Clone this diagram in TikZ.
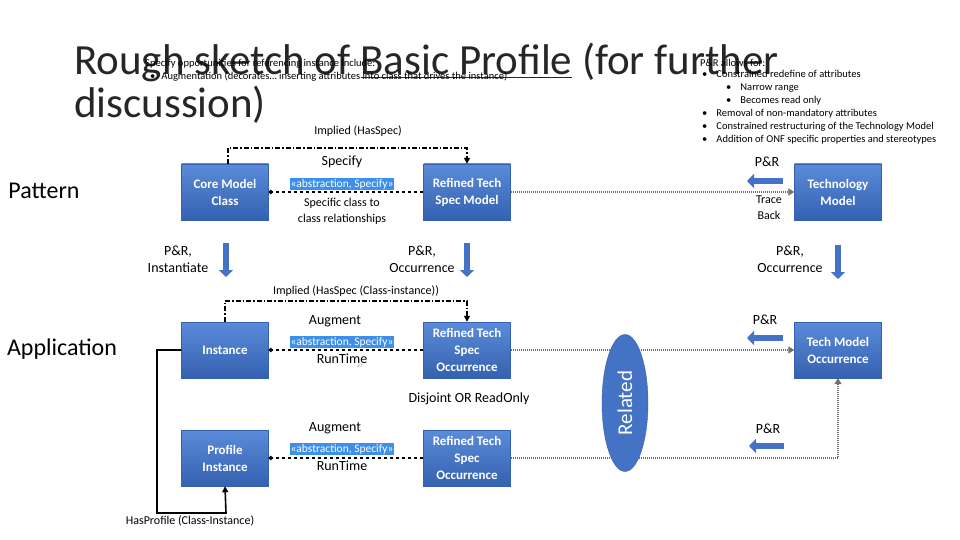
\documentclass[tikz,border=0pt]{standalone}
\usepackage{fontspec}
\setmainfont{Carlito}
\usetikzlibrary{arrows.meta,shapes.geometric}
\definecolor{bx}{HTML}{4472C4}
\definecolor{bxt}{HTML}{5B8BDA}
\definecolor{bxb}{HTML}{3461B0}
\definecolor{hl}{HTML}{3D8FE8}
\definecolor{dg}{HTML}{707070}
\tikzset{
 box/.style={draw=bxb,top color=bxt,bottom color=bxb,text=white,font=\bfseries\fontsize{13}{17}\selectfont,align=center,minimum width=87pt,minimum height=56pt,inner sep=1pt},
 lbl/.style={font=\fontsize{14}{17}\selectfont,align=center,inner sep=1pt},
 hlb/.style={fill=hl,text=white,font=\fontsize{11.5}{13}\selectfont,inner sep=1pt},
 dsh/.style={dashed,line width=1.6pt,-{Circle[length=4pt]}},
 dot/.style={dg,line width=2.4pt,dash pattern=on 1.2pt off 0.8pt,-{Triangle[length=6pt,width=7pt]}},
 dd/.style={line width=1.6pt,dash pattern=on 5pt off 2pt on 1.5pt off 2pt,-{Triangle[length=6pt,width=6pt]}},
 barrow/.style={bx,line width=6pt,-{Triangle[length=7pt,width=14pt]}},
 small/.style={font=\fontsize{10.5}{12}\selectfont,inner sep=0pt,anchor=base west},
}
\begin{document}
\begin{tikzpicture}[x=1pt,y=-1pt]
\useasboundingbox (0,0) rectangle (960,540);
% title
\node[anchor=base west,inner sep=0,font=\fontsize{43}{46}\selectfont,text=black!85] (t1) at (74,75) {Rough sketch of \underline{Basic Profile} (for further};
\node[anchor=base west,inner sep=0,font=\fontsize{43}{46}\selectfont,text=black!85] (t2) at (74,118) {discussion)};
\node[small] (s1) at (145,67) {Specify opportunities for referencing instance include:};
\node[small] (s2) at (150,80) {\textbullet\hspace{6pt}Augmentation (decorates\dots\ inserting attributes into class that drives the instance)};
\node[small] (r0) at (700,67) {P\&R allows for:};
\node[small,align=left,anchor=north west,font=\fontsize{10.5}{13}\selectfont] (r1) at (702,70) {%
\textbullet\hspace{9pt}Constrained redefine of attributes\\
\hspace{24pt}\textbullet\hspace{9pt}Narrow range\\
\hspace{24pt}\textbullet\hspace{9pt}Becomes read only\\
\textbullet\hspace{9pt}Removal of non-mandatory attributes\\
\textbullet\hspace{9pt}Constrained restructuring of the Technology Model\\
\textbullet\hspace{9pt}Addition of ONF specific properties and stereotypes};
% side labels
\node[font=\fontsize{24}{28}\selectfont] (pat) at (44,191) {Pattern};
\node[font=\fontsize{24}{28}\selectfont] (app) at (62,349) {Application};
% boxes
\node[box] (cmc) at (225,192) {Core Model\\Class};
\node[box] (rtsm) at (467,192) {Refined Tech\\Spec Model};
\node[box] (tm) at (838,192) {Technology\\Model};
\node[box] (inst) at (225,350) {Instance};
\node[box] (rtso1) at (467,350) {Refined Tech\\Spec\\Occurrence};
\node[box] (tmo) at (838,350) {Tech Model\\Occurrence};
\node[box] (pi) at (225,458) {Profile\\Instance};
\node[box] (rtso2) at (467,458) {Refined Tech\\Spec\\Occurrence};
\node[ellipse,fill=bx,draw=bxb,minimum width=46pt,minimum height=137pt,inner sep=0] (rel) at (625,403) {};
\node[rotate=90,text=white,font=\fontsize{21}{24}\selectfont] (relt) at (625,403) {Related};
% dashed abstractions
\draw[dsh] (rtsm) -- (cmc);
\draw[dsh] (rtso1) -- (inst);
\draw[dsh] (rtso2) -- (pi);
\node[hlb] (a1) at (342,184) {«abstraction, Specify»};
\node[lbl] (sp) at (342,162) {Specify};
\node[lbl,font=\fontsize{12}{16}\selectfont] (sc) at (342,211) {Specific class to\\class relationships};
\node[hlb] (a2) at (342,342) {«abstraction, Specify»};
\node[lbl] (au1) at (335,321) {Augment};
\node[lbl] (rt1) at (342,359) {RunTime};
\node[hlb] (a3) at (342,449) {«abstraction, Specify»};
\node[lbl] (au2) at (335,428) {Augment};
\node[lbl] (rt2) at (342,466) {RunTime};
\node[font=\fontsize{5}{6}\selectfont,text=gray] (n27) at (360,366) {27};
\node[lbl] (dj) at (469,399) {Disjoint OR ReadOnly};
% dotted
\draw[dot] (rtsm) -- (tm);
\draw[dot] (rtso1) -- (tmo);
\coordinate (c1) at (838,458);
\draw[dot] (rtso2.east) -- (c1) -- (tmo.south);
\node[lbl,font=\fontsize{12}{16}\selectfont] (tb) at (769,208) {Trace\\Back};
% dash-dot implied
\coordinate (d1) at (228,148); \coordinate (d2) at (467,148);
\draw[dd] (cmc.north -| d1) -- (d1) -- (d2) -- (rtsm.north);
\node[lbl,font=\fontsize{12}{14}\selectfont] (im1) at (358,131) {Implied (HasSpec)};
\coordinate (d3) at (225,301); \coordinate (d4) at (467,301);
\draw[dd] (inst.north) -- (d3) -- (d4) -- (rtso1.north);
\node[lbl,font=\fontsize{12}{14}\selectfont] (im2) at (356,291) {Implied (HasSpec (Class-instance))};
% HasProfile
\coordinate (h1) at (157,350); \coordinate (h2) at (157,513); \coordinate (h3) at (226,513);
\draw[line width=1.6pt,-{Triangle[length=6pt,width=6pt]}] (inst.west) -- (h1) -- (h2) -- (h3) -- (pi.south);
\node[lbl,font=\fontsize{12}{14}\selectfont] (hp) at (190,521) {HasProfile (Class-Instance)};
% block arrows down
\coordinate (b1s) at (226,243); \coordinate (b1e) at (226,277);
\draw[barrow] (b1s) -- (b1e);
\node[lbl] (l1) at (178,259) {P\&R,\\Instantiate};
\coordinate (b2s) at (467,243); \coordinate (b2e) at (467,277);
\draw[barrow] (b2s) -- (b2e);
\node[lbl] (l2) at (422,259) {P\&R,\\Occurrence};
\coordinate (b3s) at (838,245); \coordinate (b3e) at (838,279);
\draw[barrow] (b3s) -- (b3e);
\node[lbl] (l3) at (790,259) {P\&R,\\Occurrence};
% block arrows left
\coordinate (p1s) at (783,181); \coordinate (p1e) at (747,181);
\draw[barrow] (p1s) -- (p1e);
\node[lbl] (pr1) at (767,162) {P\&R};
\coordinate (p2s) at (783,338); \coordinate (p2e) at (747,338);
\draw[barrow] (p2s) -- (p2e);
\node[lbl] (pr2) at (765,320) {P\&R};
\coordinate (p3s) at (784,446); \coordinate (p3e) at (749,446);
\draw[barrow] (p3s) -- (p3e);
\node[lbl] (pr3) at (768,429) {P\&R};
\end{tikzpicture}
\end{document}
